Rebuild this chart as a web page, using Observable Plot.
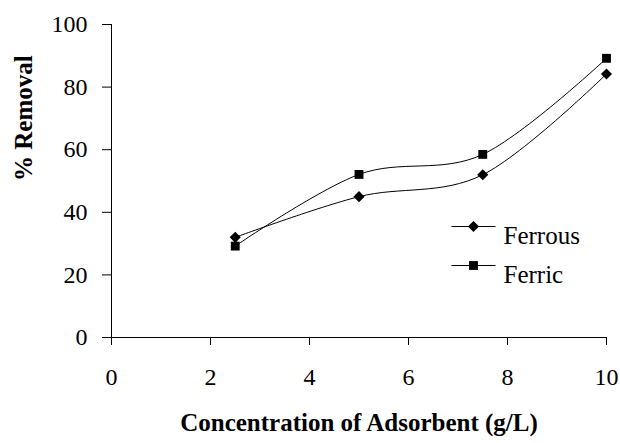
<!DOCTYPE html>
<html>
<head>
<meta charset="utf-8">
<script src="https://cdn.jsdelivr.net/npm/d3@7"></script>
<script src="https://cdn.jsdelivr.net/npm/@observablehq/plot@0.6"></script>
<style>
  html, body { margin: 0; padding: 0; background: #fff; }
  svg { display: block; }
</style>
</head>
<body>
<div id="chart"></div>
<script>
// Data
const concentration = [2.5, 5, 7.5, 10];
const ferrous = [32, 45, 52, 84.2];
const ferric = [29.2, 52.1, 58.5, 89.2];
const seriesNames = ["Ferrous", "Ferric"];
const seriesSymbols = ["diamond2", "square"];
const xTicks = [0, 2, 4, 6, 8, 10];
const yTicks = [0, 20, 40, 60, 80, 100];
const xTitle = "Concentration of Adsorbent (g/L)";
const yTitle = "% Removal";

const rows = [];
[ferrous, ferric].forEach((vals, s) => {
  vals.forEach((v, i) => rows.push({series: seriesNames[s], x: concentration[i], y: v}));
});

const font = "'Liberation Serif', 'Times New Roman', serif";
const legendLine = {draw(context) { context.moveTo(-22, 0); context.lineTo(22, 0); }};

const legendMarks = seriesNames.flatMap((name, i) => {
  const dy = 202 + i * 39;
  return [
    Plot.dot([name], {frameAnchor: "top-right", dx: -133, dy, symbol: legendLine, stroke: "black", strokeWidth: 1, fill: "none", r: 5}),
    Plot.dot([name], {frameAnchor: "top-right", dx: -133, dy, symbol: () => name, fill: "black", r: 5}),
    Plot.text([name], {frameAnchor: "top-right", dx: -103, dy, text: d => d, textAnchor: "start", fontSize: 25, fontFamily: font, fill: "black"})
  ];
});

const chart = Plot.plot({
  width: 620,
  height: 443,
  marginLeft: 111,
  marginRight: 14,
  marginTop: 24,
  marginBottom: 106,
  style: {fontFamily: font, background: "#fff", color: "black"},
  x: {domain: [0, 10]},
  y: {domain: [0, 100]},
  symbol: {domain: seriesNames, range: seriesSymbols},
  marks: [
    Plot.ruleX([0], {stroke: "black", strokeWidth: 1}),
    Plot.ruleY([0], {stroke: "black", strokeWidth: 1}),
    Plot.axisY({ticks: yTicks, tickSize: 9, tickPadding: 15, label: null, fontSize: 24, fontFamily: font, tickFormat: d => String(d)}),
    Plot.axisX({ticks: xTicks, tickSize: 8, tickPadding: 22, label: null, fontSize: 24, fontFamily: font, tickFormat: d => String(d)}),
    Plot.line(rows, {x: "x", y: "y", z: "series", curve: "cardinal", stroke: "black", strokeWidth: 1}),
    Plot.dot(rows, {x: "x", y: "y", symbol: "series", fill: "black", r: 5}),
    ...legendMarks,
    Plot.text([xTitle], {frameAnchor: "bottom", dy: 93, text: d => d, fontSize: 25, fontWeight: "bold", fontFamily: font, fill: "black"}),
    Plot.text([yTitle], {frameAnchor: "left", dx: -88, rotate: -90, text: d => d, fontSize: 25, fontWeight: "bold", fontFamily: font, fill: "black"})
  ]
});
document.getElementById("chart").appendChild(chart);
</script>
</body>
</html>
